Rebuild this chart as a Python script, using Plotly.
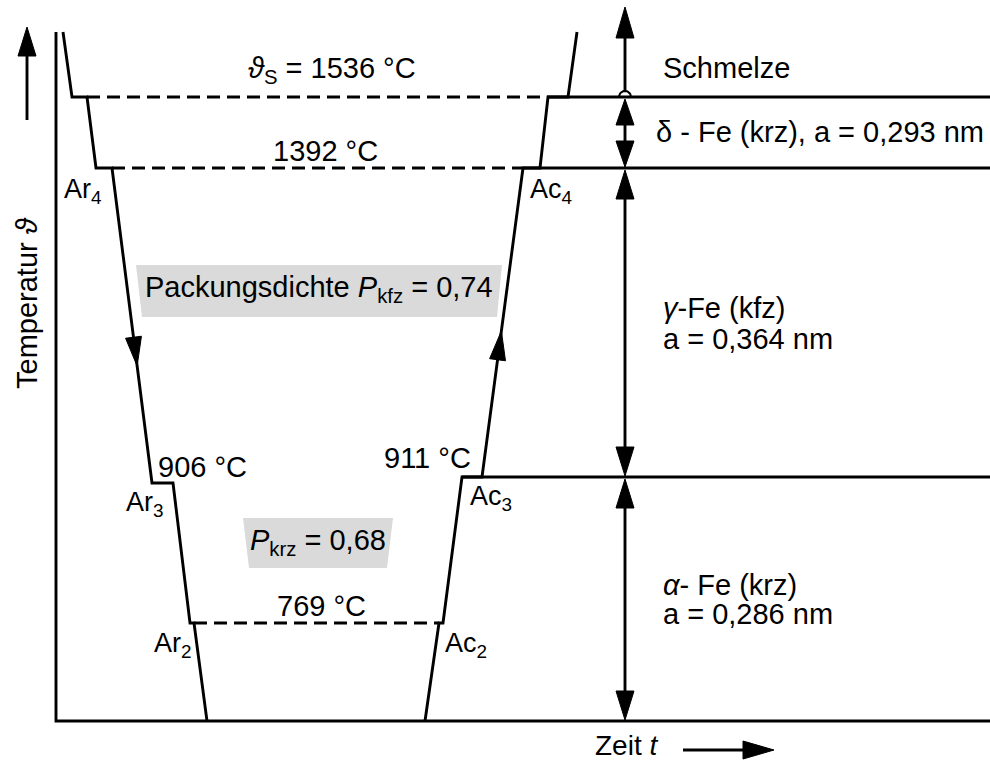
import math
import plotly.graph_objects as go

# ---------------- data (schematic units: x = Zeit, y = Temperatur level, screen-down) -------------
# cooling curve (Ar points)
cool_x = [63, 72, 87, 96, 112, 152, 173, 190, 194, 207]
cool_y = [32, 97, 97, 168, 168, 483, 483, 623, 623, 721]
# heating curve (Ac points)
heat_x = [425, 439, 443, 462, 482, 523, 540, 548, 568, 577]
heat_y = [721, 623, 623, 477, 477, 168, 168, 97, 97, 32]
# dashed isotherms: 1536 °C, 1392 °C, 769 °C
dash_y = [97, 168, 623]
dash_x0 = [87, 112, 194]
dash_x1 = [548, 523, 439]
# solid phase boundaries on the right side
phase_y = [97, 168, 477]
phase_x0 = [548, 523, 462]
x_right = 990
# axis frame
axis_x0, axis_y_top, axis_y0 = 56, 32, 721
# phase-range arrows
phase_arrow_x = 625
phase_levels = [7, 97, 168, 477, 721]

FONT = "Liberation Sans, Arial, Helvetica, sans-serif"
LW = 2.9

fig = go.Figure()


def line(xs, ys, dash=None, width=LW):
    fig.add_trace(go.Scatter(x=xs, y=ys, mode="lines", hoverinfo="skip",
                             line=dict(color="black", width=width, dash=dash)))


def head(tx, ty, fx, fy, length, half):
    dx, dy = tx - fx, ty - fy
    n = math.hypot(dx, dy)
    ux, uy = dx / n, dy / n
    bx, by = tx - ux * length, ty - uy * length
    px, py = -uy, ux
    fig.add_trace(go.Scatter(
        x=[tx, bx + px * half, bx - px * half, tx],
        y=[ty, by + py * half, by - py * half, ty],
        mode="lines", fill="toself", fillcolor="black", hoverinfo="skip",
        line=dict(color="black", width=1)))


# gray boxes (trapezoids following the curves)
def box(xs, ys):
    fig.add_trace(go.Scatter(x=xs, y=ys, mode="lines", fill="toself",
                             fillcolor="#d9dad9", line=dict(width=0, color="#d9dad9"),
                             hoverinfo="skip"))


box([136, 502, 497, 142, 136], [265, 265, 317, 317, 265])
box([243, 393, 387, 249, 243], [518, 518, 568, 568, 518])

# axes frame
line([axis_x0, axis_x0, x_right], [axis_y_top, axis_y0, axis_y0])

# dashed isotherms
for y, a, b in zip(dash_y, dash_x0, dash_x1):
    line([a, b], [y, y], dash="13px,7px")

# solid phase boundaries
for y, a in zip(phase_y, phase_x0):
    line([a, x_right], [y, y])

# curves
line(cool_x, cool_y)
line(heat_x, heat_y)

# direction arrows on the curves
# cooling: segment (112,168)->(152,483)
sx0, sy0, sx1, sy1 = cool_x[4], cool_y[4], cool_x[5], cool_y[5]
t = (366 - sy0) / (sy1 - sy0)
head(sx0 + t * (sx1 - sx0), 366, sx0, sy0, 29, 8)
# heating: segment (482,477)->(523,168)
hx0, hy0, hx1, hy1 = heat_x[4], heat_y[4], heat_x[5], heat_y[5]
t = (331 - hy0) / (hy1 - hy0)
head(hx0 + t * (hx1 - hx0), 331, hx0, hy0, 29, 8)

# phase range arrows at right
ax_ = phase_arrow_x
# top arrow (Schmelze)
line([ax_, ax_], [phase_levels[1] - 6, phase_levels[0] + 20])
head(ax_, phase_levels[0], ax_, phase_levels[1], 31, 9)
# small crossing arc
arc_x = [ax_ + 6 * math.cos(math.pi * k / 20) for k in range(21)]
arc_y = [phase_levels[1] - 6 * math.sin(math.pi * k / 20) for k in range(21)]
line(arc_x, arc_y, width=2)
for top, bot in zip(phase_levels[1:-1], phase_levels[2:]):
    line([ax_, ax_], [top + 15, bot - 15])
    ln = 26 if bot - top < 100 else 29
    head(ax_, top + 2, ax_, bot, ln, 9)
    head(ax_, bot - 1, ax_, top, ln, 9)

# Temperature axis arrow (left) and time arrow (bottom)
line([27, 27], [120, 45])
head(27, 27, 27, 120, 29, 9)
line([683, 750], [750, 750])
head(774, 750, 683, 750, 31, 9)

# ---------------- texts ----------------
S = 29
L = 27
texts = [
    # text, x, y, xanchor, size
    ("<i>ϑ</i><sub>S</sub> = 1536 °C", 332, 70, "center", S),
    ("1392 °C", 325, 151, "center", S),
    ("Ar<sub>4</sub>", 63, 191, "left", L),
    ("Ac<sub>4</sub>", 529, 191, "left", L),
    ("Packungsdichte <i>P</i><sub>kfz</sub> = 0,74", 319, 289, "center", S),
    ("Schmelze", 662, 68, "left", S),
    ("δ - Fe (krz), a = 0,293 nm", 655, 132, "left", S),
    ("<i>γ</i>-Fe (kfz)", 662, 308, "left", S),
    ("a = 0,364 nm", 662, 339, "left", S),
    ("906 °C", 202, 467, "center", S),
    ("Ar<sub>3</sub>", 125, 504, "left", L),
    ("911 °C", 427, 458, "center", S),
    ("Ac<sub>3</sub>", 469, 498, "left", L),
    ("<i>P</i><sub>krz</sub> = 0,68", 318, 542, "center", S),
    ("769 °C", 321, 606, "center", S),
    ("Ar<sub>2</sub>", 153, 645, "left", L),
    ("Ac<sub>2</sub>", 444, 645, "left", L),
    ("<i>α</i>- Fe (krz)", 662, 585, "left", S),
    ("a = 0,286 nm", 662, 614, "left", S),
    ("Zeit <i>t</i>", 626, 745, "center", 28),
]
for txt, x, y, xa, sz in texts:
    fig.add_annotation(x=x, y=y, text=txt, showarrow=False, xanchor=xa, yanchor="middle",
                       xref="x", yref="y", borderpad=0,
                       font=dict(family=FONT, size=sz, color="black"))

fig.add_annotation(x=27, y=303, text="Temperatur <i>ϑ</i>", showarrow=False, textangle=-90,
                   xref="x", yref="y", xanchor="center", yanchor="middle", borderpad=0,
                   font=dict(family=FONT, size=S, color="black"))

fig.update_layout(
    width=990, height=760, autosize=False,
    margin=dict(l=0, r=0, t=0, b=0),
    paper_bgcolor="white", plot_bgcolor="white",
    showlegend=False,
    xaxis=dict(range=[0, 990], visible=False, fixedrange=True),
    yaxis=dict(range=[760, 0], visible=False, fixedrange=True),
)

fig.write_html("out.html")
